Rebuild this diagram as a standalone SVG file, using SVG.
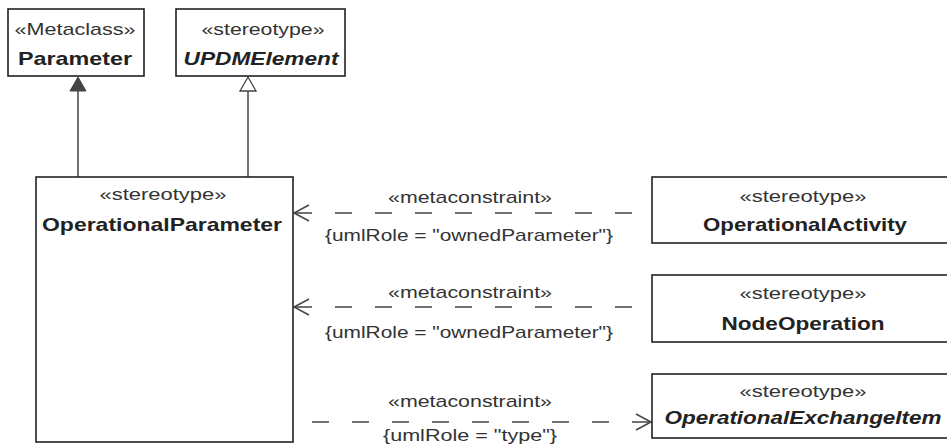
<svg xmlns="http://www.w3.org/2000/svg" width="947" height="445" viewBox="0 0 947 445">
<style>
.box{fill:#fff;stroke:#222;stroke-width:1.6}
.st{font-family:"Liberation Sans",Arial,sans-serif;font-size:17px;fill:#333;text-anchor:middle}
.nm{font-family:"Liberation Sans",Arial,sans-serif;font-size:19px;font-weight:bold;fill:#222;text-anchor:middle}
.it{font-style:italic}
.lbl{font-family:"Liberation Sans",Arial,sans-serif;font-size:17px;fill:#333;text-anchor:middle}
.ln{stroke:#444;stroke-width:1.5;fill:none}
.dash{stroke:#444;stroke-width:1.5;fill:none;stroke-dasharray:17 23}
</style>
<defs>
<marker id="open" markerWidth="20" markerHeight="20" refX="15" refY="8" orient="auto" markerUnits="userSpaceOnUse" viewBox="0 0 20 16">
<path d="M0,0 L15,8 L0,16" fill="none" stroke="#444" stroke-width="1.5"/>
</marker>
</defs>
<rect width="947" height="445" fill="#fff"/>
<g id="connectors">
<line class="ln" x1="78" y1="177" x2="78" y2="90"/>
<polygon points="78,77 70,91 86,91" fill="#444" stroke="#444" stroke-width="1"/>
<line class="ln" x1="248" y1="177" x2="248" y2="91"/>
<polygon points="248,77 240,91 256,91" fill="#fff" stroke="#444" stroke-width="1.3"/>
<line class="dash" x1="632" y1="213" x2="295" y2="213"/>
<path class="ln" d="M309,205 L294,213 L309,221"/>
<line class="dash" x1="632" y1="307" x2="295" y2="307"/>
<path class="ln" d="M309,299 L294,307 L309,315"/>
<line class="dash" x1="312" y1="422" x2="650" y2="422"/>
<path class="ln" d="M636,414 L651,422 L636,430"/>
<text class="lbl" x="470" y="203" textLength="164" lengthAdjust="spacingAndGlyphs">«metaconstraint»</text>
<text class="lbl" x="469" y="241" textLength="288" lengthAdjust="spacingAndGlyphs">{umlRole = "ownedParameter"}</text>
<text class="lbl" x="470" y="298" textLength="164" lengthAdjust="spacingAndGlyphs">«metaconstraint»</text>
<text class="lbl" x="469" y="338" textLength="288" lengthAdjust="spacingAndGlyphs">{umlRole = "ownedParameter"}</text>
<text class="lbl" x="470" y="407" textLength="164" lengthAdjust="spacingAndGlyphs">«metaconstraint»</text>
<text class="lbl" x="470" y="441" textLength="174" lengthAdjust="spacingAndGlyphs">{umlRole = "type"}</text>
</g>
<g id="Parameter">
<rect class="box" x="8" y="9" width="136" height="67"/>
<text class="st" x="75" y="35" textLength="121" lengthAdjust="spacingAndGlyphs">«Metaclass»</text>
<text class="nm" x="75" y="65" textLength="114" lengthAdjust="spacingAndGlyphs">Parameter</text>
</g>
<g id="UPDMElement">
<rect class="box" x="176" y="9" width="169" height="67"/>
<text class="st" x="263" y="35" textLength="123" lengthAdjust="spacingAndGlyphs">«stereotype»</text>
<text class="nm it" x="261" y="65" textLength="155" lengthAdjust="spacingAndGlyphs">UPDMElement</text>
</g>
<g id="OperationalParameter">
<rect class="box" x="36" y="177" width="257" height="265"/>
<text class="st" x="163" y="200" textLength="127" lengthAdjust="spacingAndGlyphs">«stereotype»</text>
<text class="nm" x="162" y="231" textLength="240" lengthAdjust="spacingAndGlyphs">OperationalParameter</text>
</g>
<g id="OperationalActivity">
<rect class="box" x="652" y="177" width="300" height="66"/>
<text class="st" x="803" y="202" textLength="127" lengthAdjust="spacingAndGlyphs">«stereotype»</text>
<text class="nm" x="805" y="231" textLength="204" lengthAdjust="spacingAndGlyphs">OperationalActivity</text>
</g>
<g id="NodeOperation">
<rect class="box" x="652" y="275" width="300" height="67"/>
<text class="st" x="803" y="299" textLength="127" lengthAdjust="spacingAndGlyphs">«stereotype»</text>
<text class="nm" x="803" y="330" textLength="163" lengthAdjust="spacingAndGlyphs">NodeOperation</text>
</g>
<g id="OperationalExchangeItem">
<rect class="box" x="652" y="374" width="300" height="64"/>
<text class="st" x="803" y="397" textLength="127" lengthAdjust="spacingAndGlyphs">«stereotype»</text>
<text class="nm it" x="803" y="424" textLength="277" lengthAdjust="spacingAndGlyphs">OperationalExchangeItem</text>
</g>
</svg>
